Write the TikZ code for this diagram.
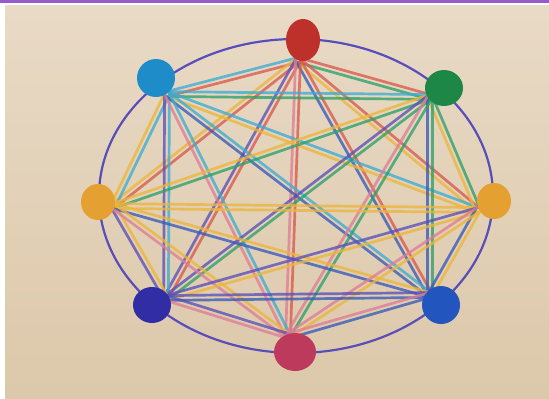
\documentclass[tikz,border=0pt]{standalone}
\usetikzlibrary{calc,shapes.geometric}
\definecolor{bgtop}{RGB}{233,218,198}
\definecolor{bgbot}{RGB}{220,200,170}
\definecolor{barcol}{RGB}{150,90,205}
\definecolor{ringcol}{RGB}{88,78,185}
% node fills
\definecolor{fR}{RGB}{190,48,42}
\definecolor{fC}{RGB}{30,140,200}
\definecolor{fG}{RGB}{28,135,70}
\definecolor{fL}{RGB}{228,160,48}
\definecolor{fO}{RGB}{228,160,48}
\definecolor{fD}{RGB}{48,45,165}
\definecolor{fB}{RGB}{35,85,190}
\definecolor{fM}{RGB}{190,58,92}
% marker stroke colours
\definecolor{lR}{RGB}{215,90,78}
\definecolor{lC}{RGB}{60,172,210}
\definecolor{lG}{RGB}{45,160,105}
\definecolor{lL}{RGB}{235,182,60}
\definecolor{lO}{RGB}{235,182,60}
\definecolor{lD}{RGB}{90,80,185}
\definecolor{lB}{RGB}{55,90,185}
\definecolor{lM}{RGB}{222,125,150}
\tikzset{
  marker/.style={line width=2.7pt, line cap=round, opacity=0.78},
  dot/.style={ellipse, draw=none, inner sep=0pt},
  ring/.style={draw=ringcol, line width=2.2pt}
}
\begin{document}
\begin{tikzpicture}[x=1pt,y=-1pt]
\useasboundingbox (0,0) rectangle (549,399);
\fill[white] (0,0) rectangle (549,399);
\shade[top color=bgtop, bottom color=bgbot] (5,5) rectangle (549,399);
\fill[barcol] (0,0) rectangle (549,2.5);
% outer ring
\node[ellipse, ring, minimum width=394pt, minimum height=314pt, inner sep=0pt] (ring) at (296,196) {};
% hubs where the strokes meet
\coordinate (hR) at (298,60);
\coordinate (hC) at (167,94);
\coordinate (hG) at (430,97);
\coordinate (hL) at (113,206);
\coordinate (hO) at (478,210);
\coordinate (hD) at (166,298);
\coordinate (hB) at (430,295);
\coordinate (hM) at (288,336);
% complete graph: each edge drawn in the colours of its two ends
\foreach \a/\b in {R/C,R/G,R/L,R/O,R/D,R/B,R/M,
                   C/G,C/L,C/O,C/D,C/B,C/M,
                   G/L,G/O,G/D,G/B,G/M,
                   L/O,L/D,L/B,L/M,
                   O/D,O/B,O/M,
                   D/B,D/M,
                   B/M}{
  \draw[marker, draw=l\a] ($(h\a)!2.4pt!90:(h\b)$) -- ($(h\b)!2.4pt!-90:(h\a)$);
  \draw[marker, draw=l\b] ($(h\a)!2.4pt!-90:(h\b)$) -- ($(h\b)!2.4pt!90:(h\a)$);
}
% vertices
\node[dot, fill=fR, minimum width=34pt, minimum height=42pt] (R) at (303,40) {};
\node[dot, fill=fC, minimum width=38pt, minimum height=38pt] (C) at (156,78) {};
\node[dot, fill=fG, minimum width=38pt, minimum height=36pt] (G) at (444,88) {};
\node[dot, fill=fL, minimum width=34pt, minimum height=36pt] (L) at (98,202) {};
\node[dot, fill=fO, minimum width=34pt, minimum height=36pt] (O) at (494,201) {};
\node[dot, fill=fD, minimum width=38pt, minimum height=36pt] (D) at (152,305) {};
\node[dot, fill=fB, minimum width=38pt, minimum height=38pt] (B) at (441,305) {};
\node[dot, fill=fM, minimum width=42pt, minimum height=38pt] (M) at (295,352) {};
\end{tikzpicture}
\end{document}
